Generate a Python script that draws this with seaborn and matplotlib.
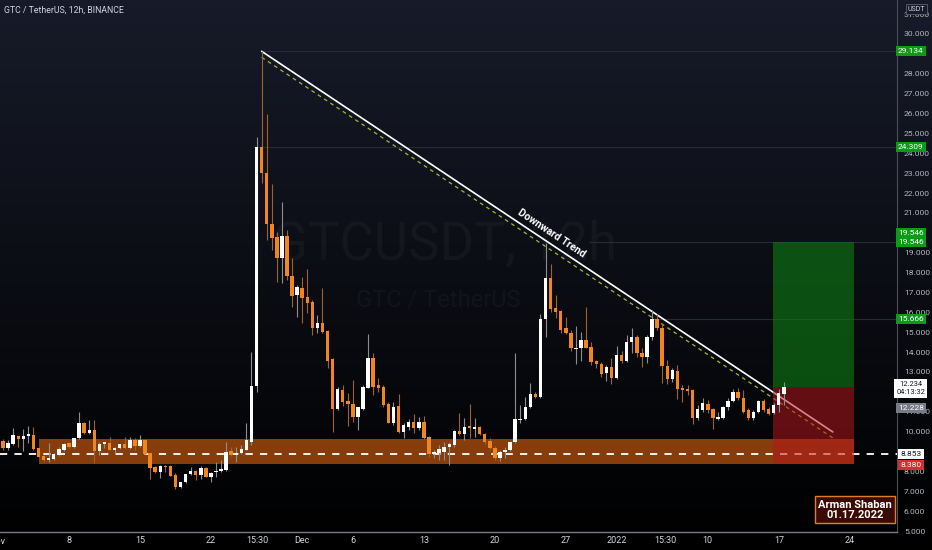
import matplotlib
matplotlib.use('Agg')
import matplotlib.pyplot as plt
import matplotlib.dates as mdates
import matplotlib.transforms as mtransforms
import numpy as np
import pandas as pd
import seaborn as sns

# 12h candles, GTC/USDT, starting 2021-11-01 12:00
opens = [9.55, 9.20, 9.38, 9.78, 9.65, 9.78, 9.82, 9.16, 8.78, 8.58,
         8.63, 8.83, 9.05, 9.41, 9.25, 9.67, 10.45, 9.92, 10.08, 9.00,
         9.38, 9.45, 9.08, 9.16, 9.36, 9.16, 9.58, 9.30, 9.58, 8.91,
         8.21, 7.96, 8.29, 8.27, 7.82, 7.23, 7.45, 7.85, 8.02, 7.82,
         8.16, 7.70, 7.97, 8.02, 8.07, 9.03, 8.83, 8.91, 9.05, 9.49,
         12.29, 24.30, 23.02, 20.42, 19.77, 18.72, 19.84, 17.83, 16.87, 17.24,
         16.79, 16.54, 15.19, 15.45, 15.06, 13.65, 11.12, 12.09, 11.54, 11.39,
         10.72, 11.14, 12.21, 13.69, 12.34, 12.26, 11.39, 10.45, 11.29, 9.99,
         10.25, 10.50, 10.16, 10.50, 9.71, 8.87, 8.94, 8.99, 9.21, 9.33,
         10.04, 9.88, 10.28, 10.13, 10.25, 9.88, 9.52, 9.20, 8.65, 8.99,
         9.07, 9.49, 10.58, 10.62, 11.25, 11.89, 11.76, 15.65, 17.74, 16.20,
         16.07, 15.19, 14.97, 14.15, 14.19, 14.61, 14.27, 13.55, 13.38, 12.93,
         13.27, 12.68, 13.85, 13.57, 14.49, 14.78, 13.97, 13.74, 14.74, 15.68,
         15.20, 13.30, 12.65, 13.07, 12.18, 12.13, 12.09, 10.67, 11.09, 11.39,
         11.12, 10.63, 10.67, 11.22, 11.56, 12.01, 11.67, 11.09, 10.67, 10.97,
         11.54, 11.14, 10.92, 11.34, 11.89]
highs = [9.62, 9.58, 10.20, 9.80, 10.12, 10.29, 10.25, 9.20, 8.83, 9.41,
         8.90, 9.25, 9.42, 9.50, 9.70, 10.97, 10.50, 10.59, 10.59, 9.50,
         9.50, 9.75, 9.25, 9.40, 9.75, 9.75, 9.67, 9.83, 9.62, 8.91,
         8.27, 8.32, 8.32, 8.30, 7.90, 7.49, 7.88, 8.21, 8.07, 8.27,
         8.20, 7.99, 8.49, 8.58, 9.50, 9.25, 9.25, 9.33, 10.45, 14.00,
         24.83, 29.13, 25.98, 22.45, 20.06, 21.56, 20.14, 18.72, 17.35, 17.79,
         18.16, 16.62, 15.87, 17.21, 15.11, 13.69, 12.26, 12.34, 11.93, 12.60,
         11.25, 12.34, 14.89, 13.94, 12.68, 12.34, 11.51, 11.51, 11.89, 10.45,
         10.62, 10.89, 10.75, 10.80, 9.78, 9.07, 9.33, 9.49, 9.49, 10.08,
         10.95, 10.67, 11.37, 10.67, 10.30, 9.95, 9.70, 9.30, 9.05, 9.24,
         9.55, 13.97, 11.34, 11.76, 12.43, 12.01, 15.92, 19.47, 18.41, 16.87,
         16.12, 15.75, 15.11, 15.31, 15.03, 16.25, 14.52, 13.60, 13.52, 13.35,
         13.69, 14.31, 14.05, 14.86, 15.19, 14.86, 14.19, 14.86, 16.12, 15.92,
         15.45, 13.60, 13.18, 13.35, 12.34, 12.34, 12.13, 11.34, 11.67, 11.59,
         11.17, 11.00, 11.30, 11.67, 12.13, 12.18, 12.09, 11.17, 11.09, 11.59,
         11.62, 11.22, 11.42, 12.13, 12.51]
lows = [9.08, 9.08, 9.33, 9.25, 9.00, 9.41, 9.08, 8.71, 8.54, 8.49,
        8.58, 8.79, 9.00, 9.16, 9.20, 9.62, 9.87, 9.88, 8.41, 8.83,
        9.16, 9.05, 8.91, 9.10, 9.13, 9.13, 9.08, 9.25, 8.86, 7.62,
        7.91, 7.69, 7.99, 7.75, 7.12, 7.15, 7.40, 7.82, 7.57, 7.62,
        7.70, 7.49, 7.74, 7.99, 8.04, 8.79, 8.49, 8.88, 9.05, 9.35,
        12.00, 22.52, 19.64, 19.13, 17.54, 17.46, 17.63, 16.29, 15.78, 15.45,
        15.95, 14.86, 14.94, 14.94, 13.18, 9.99, 11.09, 11.29, 10.28, 10.50,
        10.08, 11.09, 12.18, 11.84, 12.01, 11.25, 10.42, 10.33, 9.91, 9.66,
        10.08, 9.91, 10.08, 9.62, 8.74, 8.66, 8.57, 8.57, 8.32, 9.24,
        9.83, 9.58, 9.66, 9.74, 9.85, 9.40, 9.10, 8.55, 8.50, 8.65,
        9.00, 9.45, 10.42, 10.58, 11.17, 11.67, 11.67, 14.74, 16.03, 15.70,
        14.94, 14.90, 14.05, 13.40, 13.57, 14.19, 13.35, 13.18, 12.76, 12.55,
        12.38, 12.63, 13.47, 13.52, 13.97, 13.77, 13.27, 13.43, 14.61, 15.10,
        12.43, 12.39, 12.51, 11.62, 11.50, 11.84, 10.37, 10.58, 11.00, 10.95,
        10.11, 10.58, 10.62, 11.09, 11.50, 11.59, 10.95, 10.58, 10.58, 10.92,
        11.00, 10.83, 10.87, 11.00, 11.34]
closes = [9.16, 9.45, 9.83, 9.65, 9.78, 9.87, 9.13, 8.74, 8.58, 8.69,
          8.86, 9.11, 9.38, 9.25, 9.67, 10.42, 9.92, 10.08, 9.00, 9.38,
          9.46, 9.08, 9.20, 9.36, 9.16, 9.58, 9.30, 9.58, 8.88, 8.19,
          7.96, 8.29, 8.21, 7.79, 7.20, 7.45, 7.85, 8.02, 7.82, 8.16,
          7.74, 7.91, 8.04, 8.12, 8.99, 8.83, 8.94, 9.11, 9.58, 12.29,
          24.30, 22.99, 20.42, 19.72, 18.72, 19.84, 17.83, 16.82, 17.29, 16.70,
          16.45, 15.19, 15.45, 15.03, 13.57, 11.12, 12.13, 11.51, 11.37, 10.72,
          11.22, 12.26, 13.69, 12.26, 12.21, 11.34, 10.45, 11.25, 9.99, 10.33,
          10.50, 10.16, 10.50, 9.66, 8.87, 8.99, 9.11, 9.24, 9.36, 10.03,
          9.88, 10.25, 10.16, 10.25, 9.90, 9.49, 9.16, 8.65, 8.99, 9.07,
          9.49, 10.62, 10.63, 11.25, 11.89, 11.76, 15.66, 17.74, 16.15, 16.03,
          15.11, 14.94, 14.19, 14.22, 14.61, 14.22, 13.52, 13.38, 12.88, 13.27,
          12.68, 13.85, 13.57, 14.52, 14.78, 13.94, 13.74, 14.74, 15.66, 15.20,
          13.30, 12.65, 13.08, 12.13, 12.09, 12.04, 10.67, 11.12, 11.42, 11.09,
          10.67, 10.75, 11.25, 11.56, 12.01, 11.67, 11.00, 10.67, 10.97, 11.54,
          11.09, 10.89, 11.34, 11.96, 12.23]

first_bar = '2021-11-01 12:00'
x_ticks = ['2021-11-08', '2021-11-15', '2021-11-22', '2021-11-26 13:00',
           '2021-12-01', '2021-12-06', '2021-12-13', '2021-12-20',
           '2021-12-27', '2022-01-01', '2022-01-05 19:00', '2022-01-10',
           '2022-01-17', '2022-01-24']
x_tick_labels = ['8', '15', '22', '15:30', 'Dec', '6', '13', '20', '27',
                 '2022', '15:30', '10', '17', '24']
# 9, 12, 20 and 29 sit under the price tags, so they are not shown
price_ticks = [5, 6, 7, 8, 10, 11, 13, 14, 15, 16, 17, 18, 19,
               21, 22, 23, 24, 25, 26, 27, 28, 30, 31]

zone_low, zone_high = 8.380, 9.63
zone_mid = 8.853
entry, target, stop = 12.228, 19.546, 8.380
last_price = 12.234
countdown = '04:13:32'
levels = [29.134, 24.309, 19.546, 15.666]
level_starts = ['2021-11-27 00:00', '2021-11-26 12:00', '2021-12-29 07:00', '2022-01-04 14:00']
trend_dates = ['2021-11-27 00:00', '2022-01-22 08:00']
trend_prices = [29.13, 9.98]
trend_dash_prices = [28.83, 9.68]
box_dates = ['2022-01-16 10:00', '2022-01-24 10:00']
zone_start = '2021-11-05 01:00'

BG_TOP = '#171b29'
UP, DOWN = '#ffffff', '#f2861e'
UP_WICK, DOWN_WICK = '#8e8e8e', '#9c6230'
TXT = '#d1d4dc'

sns.set_theme(style='dark')
plt.rcParams['font.family'] = ['Roboto', 'DejaVu Sans']

fig = plt.figure(figsize=(9.32, 5.50), dpi=100)

# background gradient (navy at top to black at bottom)
bg = fig.add_axes([0, 0, 1, 1], zorder=0)
top = np.array(matplotlib.colors.to_rgb(BG_TOP))
t = np.linspace(0, 1, 256)[:, None]
grad = (top * (1 - t)).reshape(256, 1, 3)
bg.imshow(grad, aspect='auto', extent=[0, 1, 0, 1])
bg.set_axis_off()

ax = fig.add_axes([0, 18 / 550, 897 / 932, 532 / 550], zorder=1)
ax.patch.set_visible(False)

times = pd.date_range(first_bar, periods=len(opens), freq='12h')
x = mdates.date2num(times)
o = np.array(opens); h = np.array(highs); l = np.array(lows); c = np.array(closes)
up = c >= o

def d(s):
    return mdates.date2num(pd.Timestamp(s))

base = d('2021-11-01')
ax.set_xlim(base + 0.197, base + 88.66)
ax.set_ylim(4.95, 31.71)

# watermark
ax.text(base + 44.0, 19.4, 'GTCUSDT, 12h', fontsize=38, color='white', alpha=0.035,
        ha='center', va='center', zorder=0)
ax.text(base + 43.4, 16.6, 'GTC / TetherUS', fontsize=17, color='white', alpha=0.035,
        ha='center', va='center', zorder=0)

# horizontal key levels
for lv, st in zip(levels, level_starts):
    ax.hlines(lv, d(st), base + 90, color='#272b38', lw=0.8, zorder=1)

# support zone
ax.fill_between([d(zone_start), d(box_dates[1])], zone_low, zone_high,
                color='#d8600f', alpha=0.62, lw=0, zorder=2)
ax.axhline(zone_mid, color='white', lw=1.3, ls=(0, (4, 4)), zorder=3)

# trend lines
tx = [d(s) for s in trend_dates]
ax.plot(tx, trend_prices, color='white', lw=1.2, zorder=4)
ax.plot(tx, trend_dash_prices, color='#a9b82a', lw=0.9, ls=(0, (3, 3)), zorder=4)

# long position box
bx = [d(s) for s in box_dates]
ax.fill_between(bx, entry, target, color='#0d7a12', alpha=0.62, lw=0, zorder=5)
ax.fill_between(bx, stop, entry, color='#b8161c', alpha=0.52, lw=0, zorder=5)

# candles
ax.vlines(x, l, h, colors=np.where(up, UP_WICK, DOWN_WICK), lw=0.8, zorder=6)
body = np.maximum(np.abs(c - o), 0.05)
ax.bar(x, body, bottom=np.minimum(o, c), width=0.34,
       color=np.where(up, UP, DOWN), lw=0, zorder=7)

# trend label
ax.text(base + 54.6, 19.95, 'Downward Trend', fontsize=7.5, fontweight='bold',
        color='white', rotation=-33.6, ha='center', va='center',
        rotation_mode='anchor', zorder=8)

# signature box
ax.text(base + 84.5, 6.06, 'Arman Shaban\n01.17.2022', fontsize=8, fontweight='bold',
        color='white', ha='center', va='center', linespacing=1.05, zorder=9,
        bbox=dict(boxstyle='square,pad=0.3', fc='#3a0b06', ec='#e07d27', lw=1))

# axes styling
for s in ['top', 'left']:
    ax.spines[s].set_visible(False)
ax.spines['bottom'].set_color('#787b86')
ax.spines['bottom'].set_linewidth(1.0)
ax.spines['right'].set_color('#4a4e59')
ax.spines['right'].set_linewidth(0.8)
ax.grid(False)

ax.set_xticks([d(s) for s in x_ticks])
ax.set_xticklabels(x_tick_labels)
ax.tick_params(axis='x', length=0, pad=3, labelsize=6.5, colors=TXT)
fig.text(-3 / 932, 9 / 550, 'Nov', fontsize=6.5, color=TXT, ha='center', va='center')

ax.yaxis.tick_right()
ax.set_yticks(price_ticks)
ax.set_yticklabels(['%.3f' % p for p in price_ticks])
ax.tick_params(axis='y', length=0, pad=5, labelsize=6.1, colors='#b2b5be')

trans = mtransforms.blended_transform_factory(ax.transAxes, ax.transData)

def tag(y, text, fc, tc='white'):
    ax.text(1.0155, y, text, transform=trans, ha='center', va='center',
            fontsize=6.0, color=tc, clip_on=False, zorder=20,
            bbox=dict(boxstyle='square,pad=0.25', fc=fc, ec='none'))

tag(levels[0], '%.3f' % levels[0], '#0b9b16')
tag(levels[1], '%.3f' % levels[1], '#0b9b16')
tag(target + 0.45, '%.3f' % target, '#0b9b16')
tag(target, '%.3f' % target, '#0b9b16')
tag(levels[3], '%.3f' % levels[3], '#0b9b16')
ax.text(1.0155, last_price + 0.3, '%.3f\n%s' % (last_price, countdown), transform=trans,
        ha='center', va='top', fontsize=5.4, color='#131722', clip_on=False, zorder=20,
        linespacing=1.1, bbox=dict(boxstyle='square,pad=0.28', fc='white', ec='none'))
tag(11.2, '%.3f' % entry, '#787b86')
tag(zone_mid, '%.3f' % zone_mid, 'white', '#131722')
tag(8.30, '%.3f' % stop, '#d32f2f')
ax.text(1.0212, 0.983, 'USDT', transform=ax.transAxes, ha='center', va='center',
        fontsize=5, color=TXT, clip_on=False, zorder=20,
        bbox=dict(boxstyle='square,pad=0.25', fc='#171b29', ec='#5d606b', lw=0.6))

ax.text(0.005, 0.98, 'GTC / TetherUS, 12h, BINANCE', transform=ax.transAxes,
        fontsize=6.3, color=TXT, ha='left', va='center', zorder=20)

fig.savefig('out.png', dpi=100, facecolor='black')
